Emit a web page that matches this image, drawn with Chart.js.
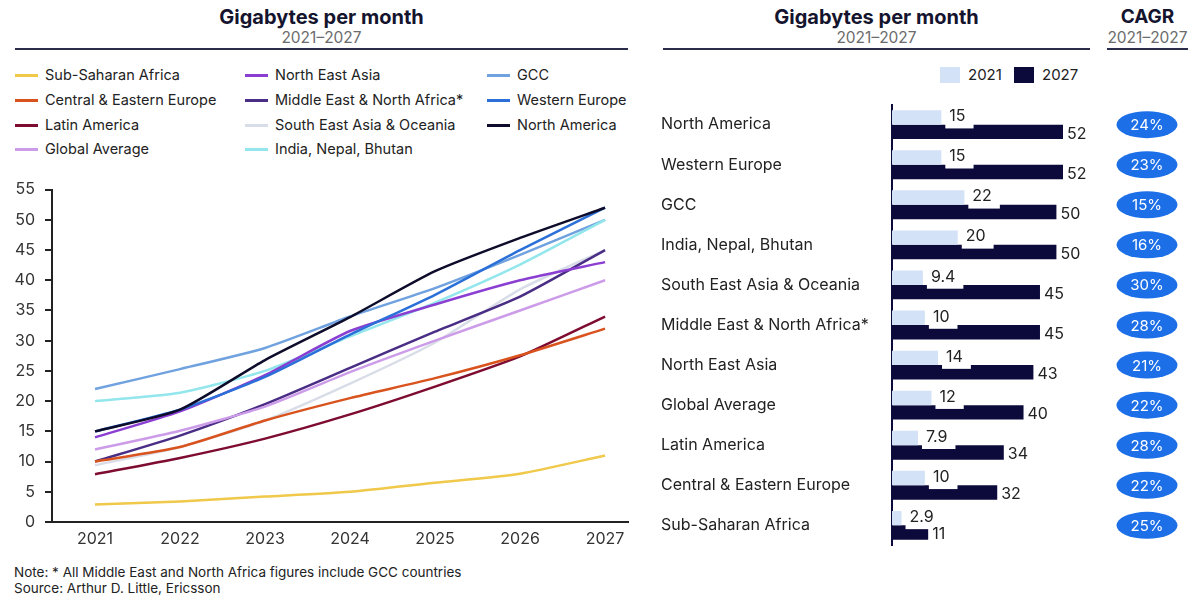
<!DOCTYPE html>
<html><head><meta charset="utf-8">
<script src="https://cdn.jsdelivr.net/npm/chart.js@4/dist/chart.umd.min.js"></script>
<style>
body{margin:0;width:1200px;height:604px;background:#fff;font-family:Inter,"Open Sans",sans-serif;color:#1d1d2e;position:relative;overflow:hidden}
.abs{position:absolute}
.title{font-weight:700;font-size:20px;line-height:22px;color:#14142e;text-align:center}
.sub{font-size:15.5px;line-height:20px;color:#6b6b6b;text-align:center}
.rule{height:2px;background:#2b2b4b}
.leg{position:absolute;font-size:14.5px;line-height:20px;color:#222;white-space:nowrap}
.leg i{position:absolute;left:0;top:9px;width:23px;height:3px}
.leg span{position:absolute;left:30px;top:0}
.note{font-size:13.5px;line-height:16px;color:#222;white-space:nowrap}
</style></head>
<body>
<div class="abs title" style="left:15px;width:613px;top:6px">Gigabytes per month</div>
<div class="abs sub" style="left:15px;width:613px;top:28px">2021–2027</div>
<div class="abs rule" style="left:15px;width:613px;top:48px"></div>
<div class="abs title" style="left:663px;width:427px;top:6px">Gigabytes per month</div>
<div class="abs sub" style="left:663px;width:427px;top:28px">2021–2027</div>
<div class="abs rule" style="left:663px;width:427px;top:48px"></div>
<div class="abs title" style="left:1107px;width:81px;top:6px;font-size:19px">CAGR</div>
<div class="abs sub" style="left:1104px;width:87px;top:28px">2021–2027</div>
<div class="abs rule" style="left:1107px;width:81px;top:48px"></div>
<div id="legend"></div>
<div class="abs" style="left:940px;top:67px;width:20px;height:16px;background:#d4e2f7"></div>
<div class="abs" style="left:968px;top:65px;font-size:15px;line-height:20px;color:#222">2021</div>
<div class="abs" style="left:1014px;top:67px;width:20px;height:16px;background:#0c0a3a"></div>
<div class="abs" style="left:1042px;top:65px;font-size:15px;line-height:20px;color:#222">2027</div>
<div class="abs" style="left:0;top:170px;width:640px;height:390px"><canvas id="line"></canvas></div>
<div class="abs" style="left:655px;top:95px;width:540px;height:460px"><canvas id="bar"></canvas></div>
<div class="abs note" style="left:14px;top:564px">Note: * All Middle East and North Africa figures include GCC countries</div>
<div class="abs note" style="left:14px;top:580px">Source: Arthur D. Little, Ericsson</div>
<script>
// ---- line chart data ----
const years = [2021, 2022, 2023, 2024, 2025, 2026, 2027];
const subSaharanAfrica      = [2.9, 3.4, 4.2, 5.0, 6.5, 8.0, 11];
const centralEasternEurope  = [10, 12.4, 16.8, 20.5, 23.8, 27.6, 32];
const latinAmerica          = [7.9, 10.6, 13.8, 17.8, 22.4, 27.4, 34];
const globalAverage         = [12, 15.1, 19.1, 24.8, 30, 35, 40];
const northEastAsia         = [14, 18.3, 24.3, 31.6, 36, 40, 43];
const middleEastNorthAfrica = [10, 14.3, 19.5, 25.5, 31.5, 37.3, 45];
const southEastAsiaOceania  = [9.4, 12.4, 16.8, 22.9, 29.7, 38.5, 45];
const indiaNepalBhutan      = [20, 21.4, 25, 30.7, 36.3, 42.6, 50];
const gccSeries             = [22, 25.3, 28.8, 34, 38.7, 44.2, 50];
const westernEurope         = [15, 18.6, 24, 31, 37.6, 45, 52];
const northAmerica          = [15, 18.6, 26.8, 33.9, 41.5, 47, 52];
const yTicks = [0, 5, 10, 15, 20, 25, 30, 35, 40, 45, 50, 55];

// ---- bar chart data ----
const barCategories = ['North America', 'Western Europe', 'GCC', 'India, Nepal, Bhutan', 'South East Asia & Oceania', 'Middle East & North Africa*', 'North East Asia', 'Global Average', 'Latin America', 'Central & Eastern Europe', 'Sub-Saharan Africa'];
const values2021 = [15, 15, 22, 20, 9.4, 10, 14, 12, 7.9, 10, 2.9];
const values2027 = [52, 52, 50, 50, 45, 45, 43, 40, 34, 32, 11];
const cagrPct    = [24, 23, 15, 16, 30, 28, 21, 22, 28, 22, 25];

const series = [
  {name: 'Sub-Saharan Africa', data: subSaharanAfrica, color: '#f0c84a', col: 0, row: 0},
  {name: 'Central & Eastern Europe', data: centralEasternEurope, color: '#d9531e', col: 0, row: 1},
  {name: 'Latin America', data: latinAmerica, color: '#7d0c30', col: 0, row: 2},
  {name: 'Global Average', data: globalAverage, color: '#cc9ce9', col: 0, row: 3},
  {name: 'North East Asia', data: northEastAsia, color: '#8b3fd2', col: 1, row: 0},
  {name: 'Middle East & North Africa*', data: middleEastNorthAfrica, color: '#4a2d85', col: 1, row: 1},
  {name: 'South East Asia & Oceania', data: southEastAsiaOceania, color: '#d8dde8', col: 1, row: 2},
  {name: 'India, Nepal, Bhutan', data: indiaNepalBhutan, color: '#92e6ec', col: 1, row: 3},
  {name: 'GCC', data: gccSeries, color: '#70a2df', col: 2, row: 0},
  {name: 'Western Europe', data: westernEurope, color: '#2a70d8', col: 2, row: 1},
  {name: 'North America', data: northAmerica, color: '#0d0c2a', col: 2, row: 2}
];

// legend (HTML)
const legCols = [15, 245, 487], legRows = [65, 90, 115, 139];
const legEl = document.getElementById('legend');
series.forEach(s => {
  const d = document.createElement('div');
  d.className = 'leg';
  d.style.left = legCols[s.col] + 'px';
  d.style.top = legRows[s.row] + 'px';
  d.innerHTML = '<i style="background:' + s.color + '"></i><span>' + s.name + '</span>';
  legEl.appendChild(d);
});

const drawOrder = {'North America': 0, 'Western Europe': 1, 'North East Asia': 2};
new Chart(document.getElementById('line'), {
  type: 'line',
  data: {
    datasets: series.map(s => ({
      label: s.name,
      data: s.data.map((v, i) => ({x: years[i], y: v})),
      borderColor: s.color,
      backgroundColor: s.color,
      borderWidth: 2.5,
      pointRadius: 0,
      tension: 0.2,
      order: drawOrder[s.name] !== undefined ? drawOrder[s.name] : 5
    }))
  },
  options: {
    responsive: true, maintainAspectRatio: false, animation: false,
    layout: {padding: {top: 1, right: 12, left: 0, bottom: 0}},
    plugins: {legend: {display: false}, tooltip: {enabled: false}},
    scales: {
      x: {
        type: 'linear', min: 2020.494, max: 2027.27,
        afterBuildTicks: a => { a.ticks = years.map(v => ({value: v})); },
        afterFit: s => { s.height = 38; },
        ticks: {callback: v => String(v), font: {size: 16, family: 'Inter'}, color: '#333', padding: 8},
        grid: {display: false, drawTicks: false},
        border: {display: true, color: '#222', width: 2}
      },
      y: {
        min: 0, max: 55,
        afterBuildTicks: a => { a.ticks = yTicks.map(v => ({value: v})); },
        afterFit: s => { s.width = 52; },
        ticks: {font: {size: 16, family: 'Inter'}, color: '#333', padding: 10},
        grid: {drawOnChartArea: false, tickLength: 7, color: '#222', lineWidth: 2},
        border: {display: true, color: '#222', width: 2}
      }
    }
  }
});

const barLabels = {
  id: 'barLabels',
  afterDatasetsDraw(chart) {
    const ctx = chart.ctx;
    ctx.save();
    ctx.font = '16px Inter';
    ctx.textBaseline = 'middle';
    ctx.textAlign = 'left';
    const m0 = chart.getDatasetMeta(0), m1 = chart.getDatasetMeta(1);
    m0.data.forEach((el, i) => {
      const t = String(values2021[i]);
      const w = ctx.measureText(t).width;
      ctx.fillStyle = '#fff';
      ctx.fillRect(el.x + 4, el.y - 9, w + 12, 20);
      ctx.fillStyle = '#222';
      ctx.fillText(t, el.x + 8, el.y - 1);
    });
    m1.data.forEach((el, i) => {
      ctx.fillStyle = '#222';
      ctx.fillText(String(values2027[i]), el.x + 4, el.y + 2);
    });
    // CAGR pills
    const ys = chart.scales.y;
    barCategories.forEach((c, i) => {
      const y = ys.getPixelForValue(i);
      ctx.fillStyle = '#1c6fe6';
      ctx.beginPath();
      ctx.ellipse(1147 - 655, y, 30.5, 13.5, 0, 0, Math.PI * 2);
      ctx.fill();
      ctx.fillStyle = '#fff';
      ctx.font = '15px Inter';
      ctx.textAlign = 'center';
      ctx.fillText(cagrPct[i] + '%', 1147 - 655, y + 1);
      ctx.textAlign = 'left';
      ctx.font = '16px Inter';
    });
    ctx.restore();
  }
};

new Chart(document.getElementById('bar'), {
  type: 'bar',
  data: {
    labels: barCategories,
    datasets: [
      {label: '2021', data: values2021, backgroundColor: '#d4e2f7', barPercentage: 1, categoryPercentage: 0.72},
      {label: '2027', data: values2027, backgroundColor: '#0c0a3a', barPercentage: 1, categoryPercentage: 0.72}
    ]
  },
  options: {
    indexAxis: 'y',
    responsive: true, maintainAspectRatio: false, animation: false,
    layout: {padding: {left: 6, top: 7, bottom: 7, right: 105.7}},
    plugins: {legend: {display: false}, tooltip: {enabled: false}},
    scales: {
      x: {min: 0, max: 60, display: false},
      y: {
        afterFit: s => { s.width = 231; },
        ticks: {crossAlign: 'far', font: {size: 16, family: 'Inter'}, color: '#222', padding: 0},
        grid: {display: false},
        border: {display: true, color: '#0c0a3a', width: 2}
      }
    }
  },
  plugins: [barLabels]
});
</script>
</body></html>
